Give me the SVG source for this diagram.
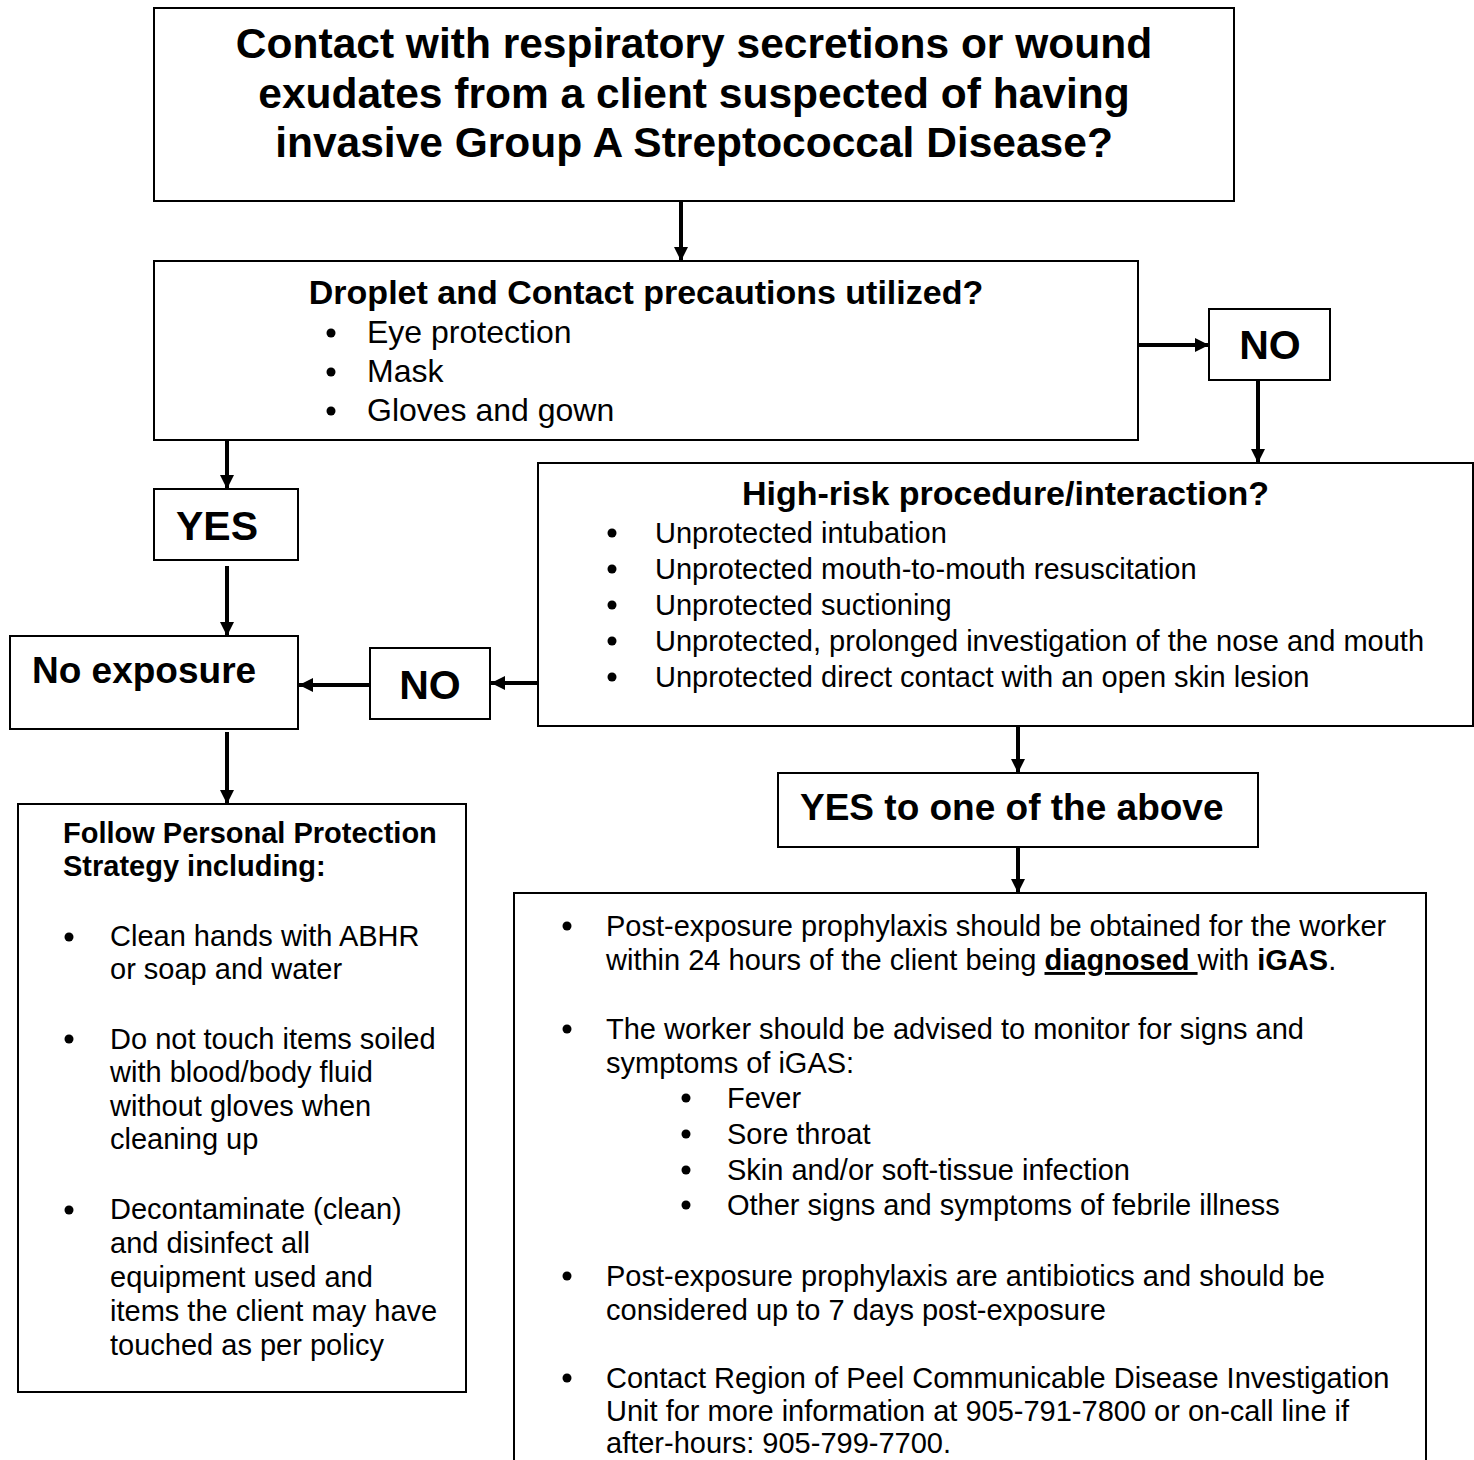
<svg xmlns="http://www.w3.org/2000/svg" width="1474" height="1460" viewBox="0 0 1474 1460">
  <style>
    text { font-family: "Liberation Sans", Arial, sans-serif; fill: #000; }
    .box { fill: #fff; stroke: #000; stroke-width: 2; }
    .b { font-weight: bold; }
    .mid { text-anchor: middle; }
    .t42 { font-size: 42.5px; }
    .t41 { font-size: 41px; }
    .t37 { font-size: 37px; }
    .t34 { font-size: 34px; }
    .t32 { font-size: 32px; }
    .t29 { font-size: 29px; }
    .wire { stroke: #000; fill: none; stroke-width: 4; }
    .dot { fill: #000; }
  </style>
  <defs>
    <marker id="head" viewBox="0 0 14 14" refX="14" refY="7" markerWidth="14" markerHeight="14" markerUnits="userSpaceOnUse" orient="auto">
      <path d="M0,0 L14,7 L0,14 Z" fill="#000"/>
    </marker>
  </defs>
  <rect width="1474" height="1460" fill="#fff"/>

  <!-- connectors -->
  <g id="connectors">
    <line class="wire" stroke-width="3" x1="681" y1="201" x2="681" y2="261" marker-end="url(#head)"/>
    <line class="wire" stroke-width="5" x1="1139" y1="345" x2="1209" y2="345" marker-end="url(#head)"/>
    <line class="wire" x1="1258" y1="381" x2="1258" y2="463" marker-end="url(#head)"/>
    <line class="wire" x1="227" y1="441" x2="227" y2="489" marker-end="url(#head)"/>
    <line class="wire" x1="227" y1="566" x2="227" y2="636" marker-end="url(#head)"/>
    <line class="wire" x1="538" y1="683" x2="491" y2="683" marker-end="url(#head)"/>
    <line class="wire" x1="370" y1="685" x2="299" y2="685" marker-end="url(#head)"/>
    <line class="wire" x1="227" y1="732" x2="227" y2="804" marker-end="url(#head)"/>
    <line class="wire" stroke-width="3" x1="1018" y1="727" x2="1018" y2="773" marker-end="url(#head)"/>
    <line class="wire" stroke-width="3" x1="1018" y1="848" x2="1018" y2="893" marker-end="url(#head)"/>
  </g>

  <!-- opening question -->
  <g id="n-contact">
    <rect class="box" x="154" y="8" width="1080" height="193"/>
    <text class="b mid t42" x="694" y="58">Contact with respiratory secretions or wound</text>
    <text class="b mid t42" x="694" y="108">exudates from a client suspected of having</text>
    <text class="b mid t42" x="694" y="157">invasive Group A Streptococcal Disease?</text>
  </g>

  <!-- precautions question -->
  <g id="n-precautions">
    <rect class="box" x="154" y="261" width="984" height="179"/>
    <text class="b mid t34" x="646" y="304">Droplet and Contact precautions utilized?</text>
    <circle class="dot" cx="331" cy="333" r="4.5"/>
    <circle class="dot" cx="331" cy="372" r="4.5"/>
    <circle class="dot" cx="331" cy="411" r="4.5"/>
    <text class="t32" x="367" y="343">Eye protection</text>
    <text class="t32" x="367" y="382">Mask</text>
    <text class="t32" x="367" y="421">Gloves and gown</text>
  </g>

  <g id="n-no1">
    <rect class="box" x="1209" y="309" width="121" height="71"/>
    <text class="b mid t41" x="1270" y="359">NO</text>
  </g>

  <g id="n-yes1">
    <rect class="box" x="154" y="489" width="144" height="71"/>
    <text class="b t41" x="176" y="540">YES</text>
  </g>

  <!-- high-risk question -->
  <g id="n-highrisk">
    <rect class="box" x="538" y="463" width="935" height="263"/>
    <text class="b mid t34" x="1005.5" y="505">High-risk procedure/interaction?</text>
    <circle class="dot" cx="612" cy="533" r="4.5"/>
    <circle class="dot" cx="612" cy="569" r="4.5"/>
    <circle class="dot" cx="612" cy="605" r="4.5"/>
    <circle class="dot" cx="612" cy="641" r="4.5"/>
    <circle class="dot" cx="612" cy="677" r="4.5"/>
    <text class="t29" x="655" y="543">Unprotected intubation</text>
    <text class="t29" x="655" y="579">Unprotected mouth-to-mouth resuscitation</text>
    <text class="t29" x="655" y="615">Unprotected suctioning</text>
    <text class="t29" x="655" y="651">Unprotected, prolonged investigation of the nose and mouth</text>
    <text class="t29" x="655" y="687">Unprotected direct contact with an open skin lesion</text>
  </g>

  <g id="n-noexposure">
    <rect class="box" x="10" y="636" width="288" height="93"/>
    <text class="b t37" x="32" y="683">No exposure</text>
  </g>

  <g id="n-no2">
    <rect class="box" x="370" y="648" width="120" height="71"/>
    <text class="b mid t41" x="430" y="699">NO</text>
  </g>

  <!-- protection strategy -->
  <g id="n-strategy">
    <rect class="box" x="18" y="804" width="448" height="588"/>
    <text class="b t29" x="63" y="843">Follow Personal Protection</text>
    <text class="b t29" x="63" y="876">Strategy including:</text>
    <circle class="dot" cx="69" cy="937" r="4.5"/>
    <circle class="dot" cx="69" cy="1039" r="4.5"/>
    <circle class="dot" cx="69" cy="1210" r="4.5"/>
    <text class="t29" x="110" y="946">Clean hands with ABHR</text>
    <text class="t29" x="110" y="979">or soap and water</text>
    <text class="t29" x="110" y="1049">Do not touch items soiled</text>
    <text class="t29" x="110" y="1082">with blood/body fluid</text>
    <text class="t29" x="110" y="1116">without gloves when</text>
    <text class="t29" x="110" y="1149">cleaning up</text>
    <text class="t29" x="110" y="1219">Decontaminate (clean)</text>
    <text class="t29" x="110" y="1253">and disinfect all</text>
    <text class="t29" x="110" y="1287">equipment used and</text>
    <text class="t29" x="110" y="1321">items the client may have</text>
    <text class="t29" x="110" y="1355">touched as per policy</text>
  </g>

  <g id="n-yesabove">
    <rect class="box" x="778" y="773" width="480" height="74"/>
    <text class="b t37" x="800" y="820">YES to one of the above</text>
  </g>

  <!-- follow-up actions -->
  <g id="n-actions">
    <rect class="box" x="514" y="893" width="912" height="580"/>
    <circle class="dot" cx="567" cy="926" r="4.5"/>
    <circle class="dot" cx="567" cy="1029" r="4.5"/>
    <circle class="dot" cx="686" cy="1098" r="4.5"/>
    <circle class="dot" cx="686" cy="1134" r="4.5"/>
    <circle class="dot" cx="686" cy="1170" r="4.5"/>
    <circle class="dot" cx="686" cy="1205" r="4.5"/>
    <circle class="dot" cx="567" cy="1276" r="4.5"/>
    <circle class="dot" cx="567" cy="1378" r="4.5"/>
    <text class="t29" x="606" y="936">Post-exposure prophylaxis should be obtained for the worker</text>
    <text class="t29" x="606" y="970">within 24 hours of the client being <tspan class="b" text-decoration="underline">diagnosed </tspan>with <tspan class="b">iGAS</tspan>.</text>
    <text class="t29" x="606" y="1039">The worker should be advised to monitor for signs and</text>
    <text class="t29" x="606" y="1073">symptoms of iGAS:</text>
    <text class="t29" x="727" y="1108">Fever</text>
    <text class="t29" x="727" y="1144">Sore throat</text>
    <text class="t29" x="727" y="1180">Skin and/or soft-tissue infection</text>
    <text class="t29" x="727" y="1215">Other signs and symptoms of febrile illness</text>
    <text class="t29" x="606" y="1286">Post-exposure prophylaxis are antibiotics and should be</text>
    <text class="t29" x="606" y="1320">considered up to 7 days post-exposure</text>
    <text class="t29" x="606" y="1388">Contact Region of Peel Communicable Disease Investigation</text>
    <text class="t29" x="606" y="1421">Unit for more information at 905-791-7800 or on-call line if</text>
    <text class="t29" x="606" y="1453">after-hours: 905-799-7700.</text>
  </g>
</svg>
